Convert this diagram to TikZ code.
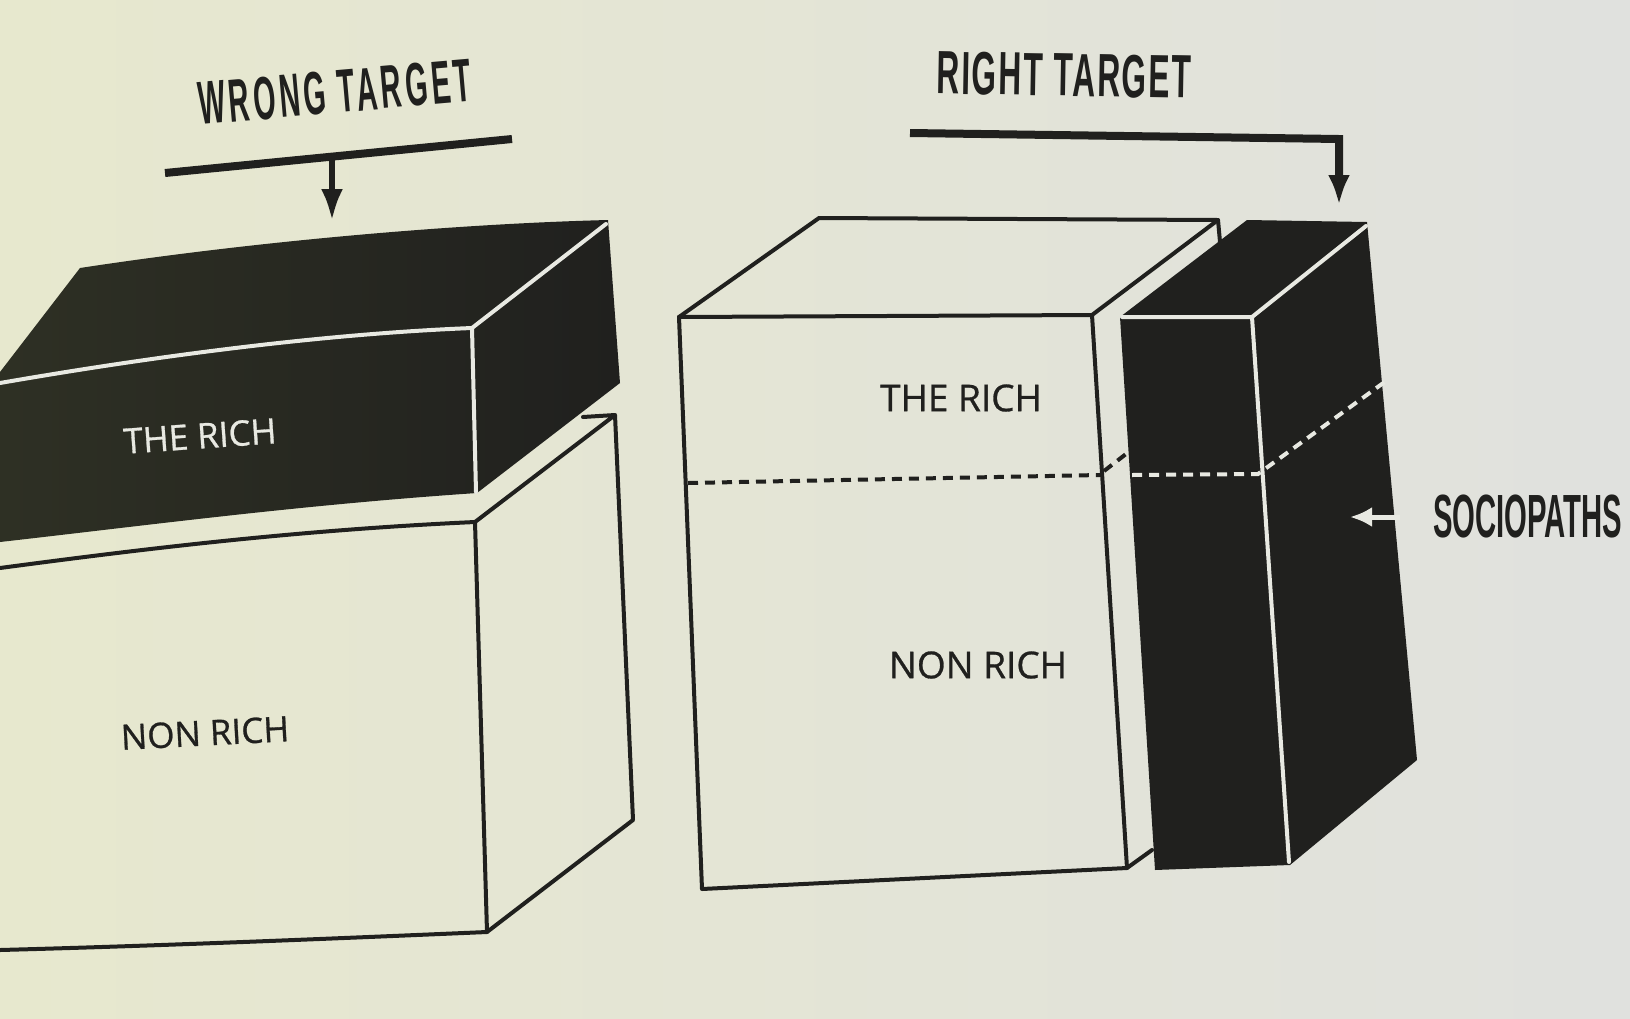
\documentclass[tikz,border=0pt]{standalone}
\usepackage{fontspec}
\setmainfont{Open Sans}
\newfontfamily\titlefont{Liberation Sans}[LetterSpace=6]
\newfontfamily\widetitlefont{Liberation Sans}[LetterSpace=13]
\newfontfamily\plaintitlefont{Liberation Sans}
\newfontfamily\lblfont{Open Sans}[FakeBold=0.8]
\usetikzlibrary{arrows.meta}
\definecolor{paperL}{RGB}{231,232,206}
\definecolor{paperR}{RGB}{224,225,222}
\definecolor{ink}{RGB}{32,32,30}
\definecolor{inkL}{RGB}{46,48,36}
\definecolor{chalk}{RGB}{232,233,226}
\tikzset{
  edge/.style={line width=4pt, draw=ink, line join=round, line cap=round},
  chalkedge/.style={line width=4pt, draw=chalk, line cap=round},
  dashink/.style={line width=4pt, draw=ink, dash pattern=on 10pt off 7pt},
  dashchalk/.style={line width=4pt, draw=chalk, dash pattern=on 10pt off 7pt},
  bar/.style={line width=8pt, draw=ink, line join=miter},
  title/.style={inner sep=0pt, text=ink, font=\titlefont\bfseries\fontsize{61}{61}\selectfont},
  lbl/.style={inner sep=0pt, font=\lblfont\fontsize{35}{35}\selectfont},
  lblbig/.style={inner sep=0pt, font=\lblfont\fontsize{37}{37}\selectfont}
}
\begin{document}
\begin{tikzpicture}[x=1pt,y=-1pt]
\useasboundingbox (0,0) rectangle (1630,1018);
\clip (0,0) rectangle (1630,1018);
\shade[left color=paperL, right color=paperR] (0,0) rectangle (1630,1018);

% ---------- left: NON RICH box ----------
\draw[edge] (0,568) .. controls (150,548) and (300,530) .. (475,522);
\draw[edge] (583,417) -- (615,415) -- (633,820) -- (487,932) -- (475,522) -- (615,415);
\draw[edge] (487,932) .. controls (300,940) and (150,946) .. (0,950);

% ---------- left: THE RICH slab ----------
\shade[left color=inkL, right color=ink]
  (0,372) -- (80,268) .. controls (250,242) and (450,224) .. (608,220)
  -- (620,383) -- (477,493) .. controls (300,505) and (150,525) .. (0,542) -- cycle;
\draw[chalkedge] (0,383) .. controls (150,357) and (320,334) .. (472,328);
\draw[chalkedge] (472,328) -- (476,492);
\draw[chalkedge] (472,328) -- (606,224);

\node[lbl, text=chalk, rotate=4] (richL) at (200,436) {THE RICH};
\node[lbl, text=ink, rotate=3] (nonL) at (205,733) {NON RICH};

% ---------- left title and arrow ----------
\node[title, font=\widetitlefont\bfseries\fontsize{61}{61}\selectfont, rotate=5] (wrongT) at (335,92) {\scalebox{0.47}[1]{WRONG TARGET}};
\coordinate (wbarL) at (165,173);
\coordinate (wbarR) at (512,139);
\coordinate (wstem) at (332,157);
\coordinate (wtip) at (332,221);
\draw[bar] (wbarL) -- (wbarR);
\draw[line width=6pt, draw=ink, -{Latex[length=32pt,width=22pt]}] (wstem) -- (wtip);

% ---------- right: white box ----------
\draw[edge] (679,317) -- (1092,315);
\draw[edge] (679,317) -- (819,218) -- (1218,220) -- (1092,315);
\draw[edge] (679,317) -- (702,889) -- (1127,868) -- (1092,315);
\draw[edge] (1127,868) -- (1152,850);
\draw[edge] (1218,220) -- (1220,242);
\draw[dashink] (688,483) -- (1100,475);
\draw[dashink] (1104,471) -- (1126,454);

\node[lblbig, text=ink] (richR) at (961,398) {THE RICH};
\node[lblbig, text=ink] (nonR) at (978,665) {NON RICH};

% ---------- right: sociopaths column ----------
\fill[ink] (1120,317) -- (1247,220) -- (1367,222) -- (1417,760) -- (1290,865) -- (1155,870) -- cycle;
\draw[chalkedge] (1122,317) -- (1252,317) -- (1366,226);
\draw[chalkedge] (1252,317) -- (1289,862);
\draw[dashchalk] (1132,475) -- (1258,474) -- (1386,381);
\coordinate (sEdge) at (1400,517);
\coordinate (sTip) at (1350,517);
\draw[line width=5pt, draw=chalk, -{Latex[length=22pt,width=20pt]}] (sEdge) -- (sTip);

% ---------- right title and arrow ----------
\node[title, rotate=-1] (rightT) at (1064,75) {\scalebox{0.52}[1]{RIGHT TARGET}};
\coordinate (rbarL) at (910,133);
\coordinate (rbarC) at (1339,139);
\coordinate (rtip) at (1339,205);
\draw[bar, -{Latex[length=30pt,width=22pt]}] (rbarL) -- (rbarC) -- (rtip);

\node[title, font=\plaintitlefont\bfseries\fontsize{61}{61}\selectfont, anchor=west] (socio) at (1433,516) {\scalebox{0.48}[1]{SOCIOPATHS}};
\end{tikzpicture}
\end{document}
